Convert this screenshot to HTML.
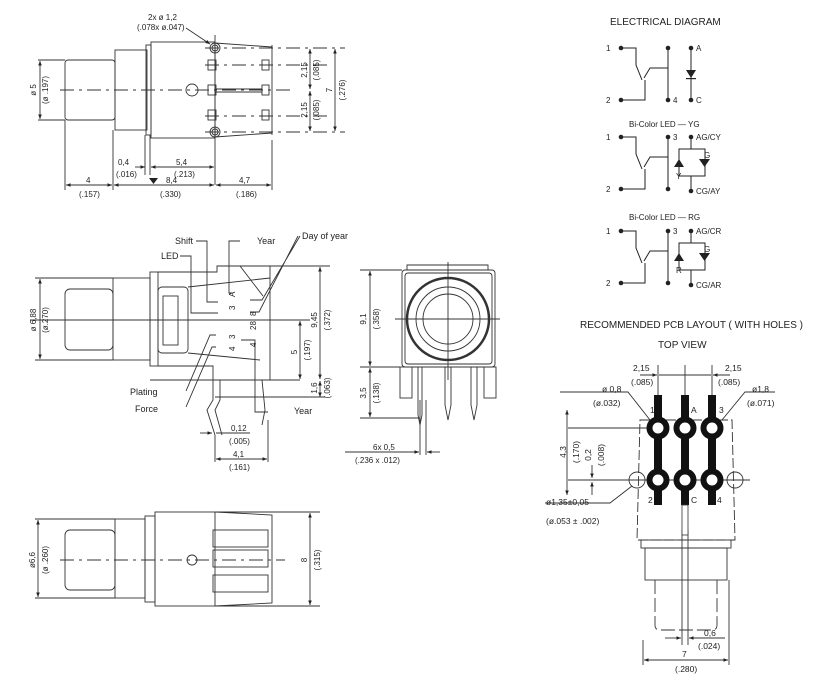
<!DOCTYPE html>
<html><head><meta charset="utf-8"><style>
html,body{margin:0;padding:0;background:#fff;}
svg{display:block;font-family:"Liberation Sans",sans-serif;}
text{fill:#222;}
</style></head><body>
<svg width="818" height="678" viewBox="0 0 818 678" xmlns="http://www.w3.org/2000/svg">
<defs>
<marker id="a" viewBox="0 0 10 10" refX="10" refY="5" markerWidth="5" markerHeight="5" orient="auto-start-reverse"><path d="M0,1 L10,5 L0,9z" fill="#222"/></marker>
</defs>
<g fill="none" stroke="#333" stroke-width="0.9">
<!-- ===== TOP VIEW ===== -->
<rect x="65" y="60" width="50" height="60" rx="3"/>
<rect x="115" y="50" width="32" height="80"/>
<rect x="146" y="45" width="5" height="90"/>
<rect x="151" y="42" width="64" height="96"/>
<path d="M215,43 L272,47 M215,137 L272,133 M272,45 V135"/>
<line x1="215" y1="35" x2="215" y2="185"/>
<line x1="272" y1="140" x2="272" y2="190"/>
<line x1="65" y1="120" x2="65" y2="190"/>
<line x1="113" y1="130" x2="113" y2="190"/>
<line x1="145" y1="135" x2="145" y2="175"/>
<line x1="150" y1="135" x2="150" y2="175"/>
<circle cx="215" cy="48" r="5"/><circle cx="215" cy="48" r="3"/>
<circle cx="215" cy="132" r="5"/><circle cx="215" cy="132" r="3"/>
<circle cx="192" cy="90" r="6"/>
<rect x="208" y="60" width="8" height="10"/><rect x="208" y="85" width="8" height="10"/><rect x="208" y="110" width="8" height="10"/>
<rect x="262" y="60" width="7" height="10"/><rect x="262" y="85" width="7" height="10"/><rect x="262" y="110" width="7" height="10"/>
<line x1="216" y1="89" x2="262" y2="89"/><line x1="216" y1="92" x2="262" y2="92"/>
<g stroke-dasharray="14,5,3,5">
<line x1="60" y1="90" x2="290" y2="90"/>
<line x1="205" y1="48" x2="345" y2="48"/><line x1="205" y1="65" x2="330" y2="65"/>
<line x1="205" y1="116" x2="330" y2="116"/><line x1="205" y1="132" x2="345" y2="132"/>
</g>
<line x1="38" y1="60" x2="65" y2="60"/><line x1="38" y1="120" x2="65" y2="120"/>
<line x1="40" y1="61" x2="40" y2="119" marker-start="url(#a)" marker-end="url(#a)"/>
<line x1="310" y1="49" x2="310" y2="89" marker-start="url(#a)" marker-end="url(#a)"/>
<line x1="310" y1="91" x2="310" y2="131" marker-start="url(#a)" marker-end="url(#a)"/>
<line x1="335" y1="49" x2="335" y2="131" marker-start="url(#a)" marker-end="url(#a)"/>
<line x1="66" y1="185" x2="112" y2="185" marker-start="url(#a)" marker-end="url(#a)"/>
<line x1="114" y1="185" x2="214" y2="185" marker-start="url(#a)" marker-end="url(#a)"/>
<line x1="216" y1="185" x2="271" y2="185" marker-start="url(#a)" marker-end="url(#a)"/>
<line x1="151" y1="167" x2="214" y2="167" marker-start="url(#a)" marker-end="url(#a)"/>
<line x1="135" y1="167" x2="145" y2="167" marker-end="url(#a)"/>
<line x1="186" y1="28" x2="210" y2="44" marker-end="url(#a)"/>
</g>
<path d="M149,178 h9 l-4.5,6z" fill="#222"/>
<g font-size="8">
<text x="148" y="20">2x ø 1,2</text><text x="137" y="30">(.078x ø.047)</text>
<text x="118" y="165">0,4</text><text x="116" y="177">(.016)</text>
<text x="176" y="165">5,4</text><text x="174" y="177">(.213)</text>
<text x="166" y="183">8,4</text><text x="160" y="197">(.330)</text>
<text x="86" y="183">4</text><text x="79" y="197">(.157)</text>
<text x="239" y="183">4,7</text><text x="236" y="197">(.186)</text>
<text transform="translate(36,90) rotate(-90)" text-anchor="middle">ø 5</text>
<text transform="translate(48,90) rotate(-90)" text-anchor="middle">(ø .197)</text>
<text transform="translate(307,70) rotate(-90)" text-anchor="middle">2,15</text>
<text transform="translate(319,70) rotate(-90)" text-anchor="middle">(.085)</text>
<text transform="translate(307,110) rotate(-90)" text-anchor="middle">2,15</text>
<text transform="translate(319,110) rotate(-90)" text-anchor="middle">(.085)</text>
<text transform="translate(332,90) rotate(-90)" text-anchor="middle">7</text>
<text transform="translate(345,90) rotate(-90)" text-anchor="middle">(.276)</text>
</g>

<!-- ===== ELECTRICAL ===== -->
<text x="610" y="25" font-size="10">ELECTRICAL DIAGRAM</text>
<g stroke="#222" stroke-width="1" fill="none">
<g id="sw">
<path d="M621,48 H636 V65 L642,80 M644,78 L650,68 H668 M645,80 V100 H621"/>
<line x1="668" y1="48" x2="668" y2="100"/>
</g>
<use href="#sw" y="89"/><use href="#sw" y="183"/>
<path d="M691,48 V100"/>
<path d="M691,137 V149 M679,149 H705 V176 H679 Z M691,176 V191"/>
<path d="M691,231 V243 M679,243 H705 V270 H679 Z M691,270 V285"/>
</g>
<g fill="#222">
<circle cx="621" cy="48" r="2.3"/><circle cx="621" cy="100" r="2.3"/><circle cx="668" cy="100" r="2.3"/><circle cx="668" cy="48" r="2.3"/>
<circle cx="691" cy="48" r="2.3"/><circle cx="691" cy="100" r="2.3"/>
<path d="M686,70 h10 l-5,8z"/><rect x="686" y="78" width="10" height="1.2"/>
<circle cx="621" cy="137" r="2.3"/><circle cx="621" cy="189" r="2.3"/><circle cx="668" cy="137" r="2.3"/><circle cx="668" cy="189" r="2.3"/>
<circle cx="691" cy="137" r="2.3"/><circle cx="691" cy="191" r="2.3"/>
<path d="M674,167 l5,-8 l5,8z M699,159 h11 l-5.5,8z"/>
<circle cx="621" cy="231" r="2.3"/><circle cx="621" cy="283" r="2.3"/><circle cx="668" cy="231" r="2.3"/><circle cx="668" cy="283" r="2.3"/>
<circle cx="691" cy="231" r="2.3"/><circle cx="691" cy="285" r="2.3"/>
<path d="M674,261 l5,-8 l5,8z M699,253 h11 l-5.5,8z"/>
</g>
<g font-size="8">
<text x="606" y="51">1</text><text x="606" y="103">2</text><text x="673" y="103">4</text><text x="696" y="51">A</text><text x="696" y="103">C</text>
<text x="629" y="127">Bi-Color LED — YG</text>
<text x="606" y="140">1</text><text x="606" y="192">2</text><text x="673" y="140">3</text><text x="696" y="140">AG/CY</text><text x="696" y="194">CG/AY</text><text x="704" y="158">G</text><text x="676" y="179">Y</text>
<text x="629" y="220">Bi-Color LED — RG</text>
<text x="606" y="234">1</text><text x="606" y="286">2</text><text x="673" y="234">3</text><text x="696" y="234">AG/CR</text><text x="696" y="288">CG/AR</text><text x="704" y="252">G</text><text x="676" y="273">R</text>
</g>

<!-- ===== SIDE VIEW ===== -->
<g fill="none" stroke="#333" stroke-width="0.9">
<rect x="65" y="289" width="48" height="61" rx="5"/>
<rect x="113" y="278" width="37" height="82"/>
<rect x="150" y="272" width="8" height="94"/>
<rect x="158" y="287" width="30" height="66" rx="4"/>
<rect x="163" y="296" width="15" height="49"/>
<path d="M158,272 H217 V266 H270 V380 M158,366 H213 V380 M188,287 L270,278 M188,353 L260,360"/>
<line x1="150" y1="380" x2="300" y2="380"/>
<path d="M213,380 V400 L207,410 L215,435 M220,380 V400 L215,410 L222,435 M262,380 L265,410 L262,425"/>
<line x1="30" y1="320" x2="310" y2="320"/>
<line x1="35" y1="278" x2="113" y2="278"/><line x1="35" y1="360" x2="113" y2="360"/>
<line x1="40" y1="279" x2="40" y2="359" marker-start="url(#a)" marker-end="url(#a)"/>
<line x1="270" y1="266" x2="330" y2="266"/>
<line x1="320" y1="267" x2="320" y2="379" marker-start="url(#a)" marker-end="url(#a)"/>
<line x1="300" y1="321" x2="300" y2="379" marker-start="url(#a)" marker-end="url(#a)"/>
<line x1="320" y1="381" x2="320" y2="397" marker-start="url(#a)" marker-end="url(#a)"/>
<line x1="215" y1="397" x2="325" y2="397"/>
<line x1="215" y1="435" x2="215" y2="462"/><line x1="268" y1="420" x2="268" y2="462"/>
<line x1="200" y1="433" x2="212" y2="433" marker-end="url(#a)"/><line x1="216" y1="433" x2="250" y2="433"/>
<line x1="216" y1="459" x2="267" y2="459" marker-start="url(#a)" marker-end="url(#a)"/>
<path d="M196,241 H207 V302 H218 M180,256 H191 V313 H218 M240,241 H229 V293 H232 M300,236 L262,300 H250 M298,236 L259,312 H250"/>
<path d="M186,391 L210,335 H216 M186,407 L212,347 H216 M241,340 H255 V412 H268"/>
<path d="M217,266 L240,266 L263,296"/>
</g>
<g font-size="9">
<text x="175" y="244">Shift</text><text x="161" y="259">LED</text><text x="257" y="244">Year</text><text x="302" y="239">Day of year</text>
<text x="130" y="395">Plating</text><text x="135" y="412">Force</text><text x="294" y="414">Year</text>
</g>
<g font-size="8">
<text transform="translate(235,297) rotate(-90)">A</text><text transform="translate(235,310) rotate(-90)">3</text>
<text transform="translate(256,316) rotate(-90)">8</text><text transform="translate(256,330) rotate(-90)">28</text>
<text transform="translate(235,339) rotate(-90)">3</text><text transform="translate(235,351) rotate(-90)">4</text><text transform="translate(256,347) rotate(-90)">4</text>
<text transform="translate(36,320) rotate(-90)" text-anchor="middle">ø 6,88</text>
<text transform="translate(48,320) rotate(-90)" text-anchor="middle">(ø.270)</text>
<text transform="translate(317,320) rotate(-90)" text-anchor="middle">9,45</text>
<text transform="translate(330,320) rotate(-90)" text-anchor="middle">(.372)</text>
<text transform="translate(297,352) rotate(-90)" text-anchor="middle">5</text>
<text transform="translate(310,350) rotate(-90)" text-anchor="middle">(.197)</text>
<text transform="translate(317,388) rotate(-90)" text-anchor="middle">1,6</text>
<text transform="translate(330,388) rotate(-90)" text-anchor="middle">(.063)</text>
<text x="231" y="431">0,12</text><text x="229" y="444">(.005)</text>
<text x="233" y="457">4,1</text><text x="229" y="470">(.161)</text>
</g>

<!-- ===== FRONT VIEW ===== -->
<g fill="none" stroke="#333" stroke-width="0.9">
<rect x="402" y="270" width="93" height="97" rx="3"/>
<rect x="405" y="273" width="87" height="91" rx="3"/>
<path d="M407,270 V265 H488 V270"/>
<circle cx="448" cy="319" r="41" stroke-width="2.5"/>
<circle cx="448" cy="319" r="32"/><circle cx="448" cy="319" r="25"/>
<line x1="395" y1="319" x2="500" y2="319"/><line x1="448" y1="262" x2="448" y2="380"/>
<rect x="400" y="367" width="12" height="31"/><rect x="484" y="367" width="12" height="31"/>
<path d="M418,367 V415 L420,425 L422,415 V367 M445,367 V405 L448,420 L451,405 V367 M471,367 V405 L474,420 L477,405 V367"/>
<line x1="420" y1="400" x2="420" y2="455"/><line x1="426" y1="400" x2="426" y2="455"/>
<line x1="360" y1="270" x2="402" y2="270"/><line x1="360" y1="367" x2="400" y2="367"/><line x1="360" y1="418" x2="420" y2="418"/>
<line x1="370" y1="271" x2="370" y2="366" marker-start="url(#a)" marker-end="url(#a)"/>
<line x1="370" y1="368" x2="370" y2="417" marker-start="url(#a)" marker-end="url(#a)"/>
<line x1="345" y1="452" x2="419" y2="452" marker-end="url(#a)"/><line x1="427" y1="452" x2="440" y2="452" marker-start="url(#a)"/>
</g>
<g font-size="8">
<text transform="translate(366,319) rotate(-90)" text-anchor="middle">9,1</text>
<text transform="translate(379,319) rotate(-90)" text-anchor="middle">(.358)</text>
<text transform="translate(366,393) rotate(-90)" text-anchor="middle">3,5</text>
<text transform="translate(379,393) rotate(-90)" text-anchor="middle">(.138)</text>
<text x="373" y="450">6x 0,5</text><text x="355" y="463">(.236 x .012)</text>
</g>

<!-- ===== BOTTOM VIEW ===== -->
<g fill="none" stroke="#333" stroke-width="0.9">
<rect x="65" y="530" width="50" height="60" rx="5"/>
<rect x="115" y="519" width="30" height="79"/>
<rect x="145" y="516" width="10" height="86"/>
<rect x="155" y="512" width="60" height="94"/>
<path d="M215,512 L272,515 V603 L215,606"/>
<rect x="213" y="530" width="55" height="17"/><rect x="213" y="550" width="55" height="17"/><rect x="213" y="575" width="55" height="17"/>
<line x1="60" y1="560" x2="285" y2="560" stroke-dasharray="14,5,3,5"/>
<circle cx="192" cy="560" r="5"/>
<line x1="35" y1="519" x2="115" y2="519"/><line x1="35" y1="598" x2="115" y2="598"/>
<line x1="38" y1="520" x2="38" y2="597" marker-start="url(#a)" marker-end="url(#a)"/>
<line x1="215" y1="512" x2="320" y2="512"/><line x1="215" y1="606" x2="320" y2="606"/>
<line x1="310" y1="513" x2="310" y2="605" marker-start="url(#a)" marker-end="url(#a)"/>
</g>
<g font-size="8">
<text transform="translate(35,560) rotate(-90)" text-anchor="middle">ø6,6</text>
<text transform="translate(48,560) rotate(-90)" text-anchor="middle">(ø .260)</text>
<text transform="translate(307,560) rotate(-90)" text-anchor="middle">8</text>
<text transform="translate(320,560) rotate(-90)" text-anchor="middle">(.315)</text>
</g>

<!-- ===== PCB ===== -->
<text x="580" y="328" font-size="10">RECOMMENDED PCB LAYOUT ( WITH HOLES )</text>
<text x="658" y="348" font-size="10">TOP VIEW</text>
<g fill="none" stroke="#333" stroke-width="0.9">
<path d="M640,420 H732 L735,540 H637 Z" stroke-dasharray="10,3"/>
<rect x="641" y="540" width="90" height="8"/>
<rect x="645" y="548" width="82" height="32"/>
<path d="M655,580 V625 Q655,630 660,630 H712 Q717,630 717,625 V580" stroke-dasharray="14,4"/>
<circle cx="637" cy="480" r="8"/><circle cx="735" cy="480" r="8"/>
<line x1="600" y1="480" x2="750" y2="480"/>
<line x1="682" y1="530" x2="682" y2="645"/><line x1="688" y1="530" x2="688" y2="645"/>
<line x1="658" y1="365" x2="658" y2="395"/><line x1="685" y1="365" x2="685" y2="395"/><line x1="712" y1="365" x2="712" y2="395"/>
<line x1="640" y1="375" x2="657" y2="375" marker-end="url(#a)"/><line x1="659" y1="375" x2="711" y2="375"/><line x1="713" y1="375" x2="730" y2="375" marker-start="url(#a)"/>
<line x1="568" y1="428" x2="650" y2="428"/><line x1="568" y1="480" x2="630" y2="480"/>
<line x1="567" y1="410" x2="567" y2="495" marker-start="url(#a)" marker-end="url(#a)"/>
<line x1="592" y1="465" x2="592" y2="478" marker-end="url(#a)"/><line x1="592" y1="482" x2="592" y2="495" marker-start="url(#a)"/>
<path d="M560,392 H628 L650,420"/><path d="M775,392 H745 L722,420"/><path d="M545,503 H610 L632,486"/>
<line x1="643" y1="640" x2="643" y2="665"/><line x1="729" y1="580" x2="729" y2="665"/>
<line x1="644" y1="660" x2="728" y2="660" marker-start="url(#a)" marker-end="url(#a)"/>
<line x1="665" y1="638" x2="681" y2="638" marker-end="url(#a)"/><line x1="689" y1="638" x2="725" y2="638" marker-start="url(#a)"/>
</g>
<g fill="#111">
<rect x="654" y="395" width="8" height="110"/><rect x="681" y="395" width="8" height="110"/><rect x="708" y="395" width="8" height="110"/>
</g>
<g fill="#fff" stroke="#111" stroke-width="6">
<circle cx="658" cy="428" r="8.5"/><circle cx="685" cy="428" r="8.5"/><circle cx="712" cy="428" r="8.5"/>
<circle cx="658" cy="480" r="8.5"/><circle cx="685" cy="480" r="8.5"/><circle cx="712" cy="480" r="8.5"/>
</g>
<rect x="682" y="505" width="6" height="30" fill="#fff" stroke="#333" stroke-width="0.8"/>
<g font-size="8.5">
<text x="633" y="371">2,15</text><text x="631" y="385">(.085)</text>
<text x="725" y="371">2,15</text><text x="718" y="385">(.085)</text>
<text x="602" y="392">ø 0,8</text><text x="593" y="406">(ø.032)</text>
<text x="752" y="392">ø1,8</text><text x="747" y="406">(ø.071)</text>
<text x="650" y="413">1</text><text x="691" y="413">A</text><text x="719" y="413">3</text>
<text x="648" y="503">2</text><text x="691" y="503">C</text><text x="717" y="503">4</text>
<text x="546" y="505">ø1,35±0,05</text><text x="546" y="524">(ø.053 ± .002)</text>
<text transform="translate(566,452) rotate(-90)" text-anchor="middle">4,3</text>
<text transform="translate(579,452) rotate(-90)" text-anchor="middle">(.170)</text>
<text transform="translate(591,455) rotate(-90)" text-anchor="middle">0,2</text>
<text transform="translate(604,455) rotate(-90)" text-anchor="middle">(.008)</text>
<text x="704" y="636">0,6</text><text x="698" y="649">(.024)</text>
<text x="682" y="657">7</text><text x="675" y="672">(.280)</text>
</g>
</svg>
</body></html>
